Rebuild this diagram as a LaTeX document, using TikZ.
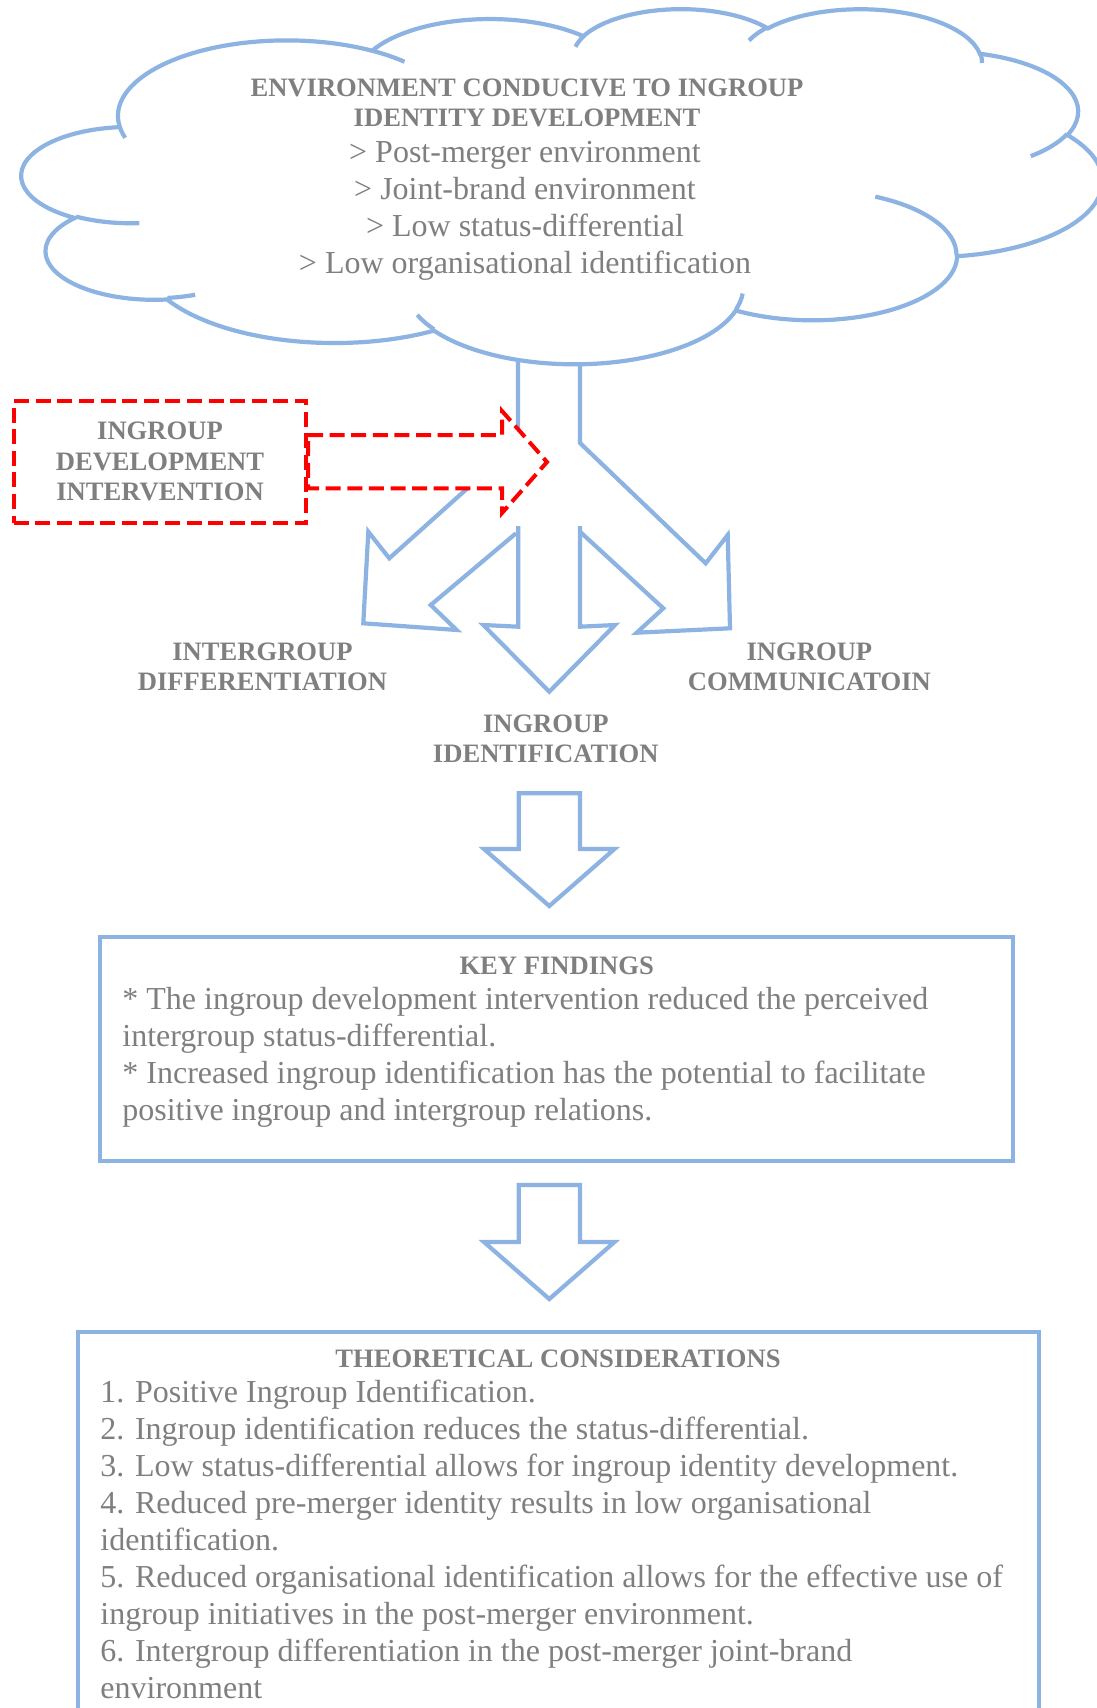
\documentclass[tikz,border=0pt]{standalone}
\usepackage{fontspec}
\setmainfont{Liberation Serif}
\definecolor{cloudblue}{HTML}{8DB3E2}
\definecolor{txtgray}{HTML}{7F7F7F}

% Office-style arc: geometric start/sweep angles (degrees) on an ellipse
% wR x hR are turned into parametric angles for TikZ's arc.
\newcommand\ooarc[5]{%
  \pgfmathsetmacro\ooS{atan2((#2)*sin(#4),(#3)*cos(#4))}%
  \pgfmathsetmacro\ooE{atan2((#2)*sin((#4)+(#5)),(#3)*cos((#4)+(#5)))}%
  \pgfmathsetmacro\ooD{\ooE-\ooS}%
  \pgfmathsetmacro\ooD{\ooD-360*round((\ooD-(#5))/360)}%
  \expandafter\xdef\csname oos#1\endcsname{\ooS}%
  \expandafter\xdef\csname ood#1\endcsname{\ooD}%
}
% outline arcs
\ooarc{A}{67.53}{91.90}{-190.4875}{123.7805}
\ooarc{B}{53.33}{72.67}{-144.1024}{89.9452}
\ooarc{C}{43.65}{59.45}{-145.8079}{99.7230}
\ooarc{D}{48.57}{65.95}{-130.9861}{117.2417}
\ooarc{E}{53.33}{72.73}{-78.7089}{109.0269}
\ooarc{F}{67.75}{92.20}{-46.2673}{130.2690}
\ooarc{G}{57.85}{78.67}{0.6250}{114.0333}
\ooarc{H}{67.52}{92.15}{22.4516}{115.1726}
\ooarc{I}{77.20}{105.43}{66.2426}{75.7110}
\ooarc{J}{43.60}{59.18}{-274.9421}{146.7356}
\ooarc{K}{43.45}{59.45}{-246.8285}{152.5189}
% inner hook arcs
\ooarc{a}{43.45}{59.45}{86.7420}{26.4295}
\ooarc{b}{43.60}{59.18}{73.6105}{11.4475}
\ooarc{c}{67.52}{92.15}{137.6242}{14.0811}
\ooarc{d}{67.52}{92.15}{6.4533}{15.9984}
\ooarc{e}{57.85}{78.67}{-70.2924}{70.9174}
\ooarc{f}{53.33}{72.73}{30.3180}{27.7515}
\ooarc{g}{48.57}{65.95}{-13.7443}{14.8589}
\ooarc{h}{48.57}{65.95}{-149.1815}{18.1954}
\ooarc{i}{43.65}{59.45}{-163.4943}{17.6864}
\ooarc{j}{67.53}{91.90}{-66.7070}{12.3194}
\ooarc{k}{67.53}{91.90}{157.6544}{11.8582}

\tikzset{
  blueline/.style={draw=cloudblue, line width=2.1pt},
  redline/.style={draw=red, line width=2pt, dash pattern=on 7.5pt off 3.3pt},
  hd/.style={font=\fontsize{13.3}{15.25}\selectfont\bfseries, text=txtgray, inner sep=0pt},
  bd/.style={font=\fontsize{16}{18.5}\selectfont, text=txtgray, inner sep=0pt},
  panel/.style={draw=cloudblue, line width=2.1pt, rectangle, inner sep=0pt, outer sep=0pt,
    anchor=north west},
}

\begin{document}
\begin{tikzpicture}[x=0.5pt, y=-0.5pt]
\useasboundingbox (0,0) rectangle (1097,1708);

% three-way block arrow below the cloud
\draw[blueline] (518,355) -- (518,443) -- (389.3,558.3) -- (368.3,531.7) -- (363.3,623.3)
  -- (456.7,630) -- (430.7,605) -- (516,533.3);
\draw[blueline] (518.3,526) -- (518.3,626.7) -- (483.3,625) -- (549.3,691.7) -- (615,625)
  -- (580,626.7) -- (580,526);
\draw[blueline] (580,355) -- (580,443) -- (705.7,563.3) -- (727.7,535) -- (730,628.3)
  -- (636.7,632.7) -- (663.3,608.3) -- (580,531.7);

% cloud
\begin{scope}[shift={(22,8)}, xscale=2.5, yscale=0.82176]
\draw[blueline, fill=white] (39.00,143.70)
  arc[start angle=\oosA, delta angle=\oodA, x radius=67.53, y radius=91.90]
  arc[start angle=\oosB, delta angle=\oodB, x radius=53.33, y radius=72.67]
  arc[start angle=\oosC, delta angle=\oodC, x radius=43.65, y radius=59.45]
  arc[start angle=\oosD, delta angle=\oodD, x radius=48.57, y radius=65.95]
  arc[start angle=\oosE, delta angle=\oodE, x radius=53.33, y radius=72.73]
  arc[start angle=\oosF, delta angle=\oodF, x radius=67.75, y radius=92.20]
  arc[start angle=\oosG, delta angle=\oodG, x radius=57.85, y radius=78.67]
  arc[start angle=\oosH, delta angle=\oodH, x radius=67.52, y radius=92.15]
  arc[start angle=\oosI, delta angle=\oodI, x radius=77.20, y radius=105.43]
  arc[start angle=\oosJ, delta angle=\oodJ, x radius=43.60, y radius=59.18]
  arc[start angle=\oosK, delta angle=\oodK, x radius=43.45, y radius=59.45]
  -- cycle;
\draw[blueline]
  (46.93,261.77) arc[start angle=\oosa, delta angle=\ooda, x radius=43.45, y radius=59.45]
  (69.28,348.99) arc[start angle=\oosb, delta angle=\oodb, x radius=43.60, y radius=59.18]
  (164.78,390.90) arc[start angle=\oosc, delta angle=\oodc, x radius=67.52, y radius=92.15]
  (288.27,347.51) arc[start angle=\oosd, delta angle=\oodd, x radius=67.52, y radius=92.15]
  (341.29,229.54) arc[start angle=\oose, delta angle=\oode, x radius=57.85, y radius=78.67]
  (417.98,153.54) arc[start angle=\oosf, delta angle=\oodf, x radius=53.33, y radius=72.73]
  (383.24,54.26) arc[start angle=\oosg, delta angle=\oodg, x radius=48.57, y radius=65.95]
  (290.78,39.52) arc[start angle=\oosh, delta angle=\oodh, x radius=48.57, y radius=65.95]
  (221.41,47.20) arc[start angle=\oosi, delta angle=\oodi, x radius=43.65, y radius=59.45]
  (140.00,51.92) arc[start angle=\oosj, delta angle=\oodj, x radius=67.53, y radius=91.90]
  (41.27,157.89) arc[start angle=\oosk, delta angle=\oodk, x radius=67.53, y radius=91.90];
\end{scope}

% intervention box and its dashed block arrow
\node[redline, fill=white, rectangle, inner sep=0pt, outer sep=0pt, anchor=north west,
  minimum width=146.15pt, minimum height=61pt] (interventionbox) at (13.7,401.3) {};
\draw[redline, fill=white] (308,435) -- (502,435) -- (502,411) -- (547,462)
  -- (502,513) -- (502,488.3) -- (308,488.3) -- cycle;

% down arrows between the panels
\draw[blueline] (518.7,793.3) -- (580,793.3) -- (580,849) -- (614.5,849) -- (549.3,906)
  -- (484,849) -- (518.7,849) -- cycle;
\draw[blueline] (518.7,1185) -- (580,1185) -- (580,1242) -- (614.5,1242) -- (549.3,1299)
  -- (484,1242) -- (518.7,1242) -- cycle;

% panels
\node[panel, minimum width=456.35pt, minimum height=112pt] (findings) at (100.3,937) {};
\node[panel, minimum width=480.5pt, minimum height=220pt] (theory) at (78.3,1331.7) {};

% texts
\node[hd, anchor=base] (envhead) at (527,96)
  {\begin{tabular}[t]{@{}c@{}}ENVIRONMENT CONDUCIVE TO INGROUP\\IDENTITY DEVELOPMENT\end{tabular}};
\node[bd, anchor=base] (envlist) at (525,162.5)
  {\begin{tabular}[t]{@{}c@{}}> Post-merger environment\\> Joint-brand environment\\> Low status-differential\\> Low organisational identification\end{tabular}};
\node[hd, anchor=base] (intervention) at (160,439.5)
  {\begin{tabular}[t]{@{}c@{}}INGROUP\\DEVELOPMENT\\INTERVENTION\end{tabular}};
\node[hd, anchor=base] (differentiation) at (262.5,660)
  {\begin{tabular}[t]{@{}c@{}}INTERGROUP\\DIFFERENTIATION\end{tabular}};
\node[hd, anchor=base] (communication) at (809.4,660)
  {\begin{tabular}[t]{@{}c@{}}INGROUP\\COMMUNICATOIN\end{tabular}};
\node[hd, anchor=base] (identification) at (545.8,732)
  {\begin{tabular}[t]{@{}c@{}}INGROUP\\IDENTIFICATION\end{tabular}};
\node[hd, anchor=base] (findingshead) at (556.7,974) {KEY FINDINGS};
\node[bd, anchor=base west] (findingsbody) at (122,1009.5)
  {\begin{tabular}[t]{@{}l@{}}{}* The ingroup development intervention reduced the perceived\\
   intergroup status-differential.\\
   {}* Increased ingroup identification has the potential to facilitate\\
   positive ingroup and intergroup relations.\end{tabular}};
\node[hd, anchor=base] (theoryhead) at (558,1367) {THEORETICAL CONSIDERATIONS};
\node[bd, anchor=base west] (theorybody) at (100,1402.5)
  {\begin{tabular}[t]{@{}l@{}}1. Positive Ingroup Identification.\\
   2. Ingroup identification reduces the status-differential.\\
   3. Low status-differential allows for ingroup identity development.\\
   4. Reduced pre-merger identity results in low organisational\\
   identification.\\
   5. Reduced organisational identification allows for the effective use of\\
   ingroup initiatives in the post-merger environment.\\
   6. Intergroup differentiation in the post-merger joint-brand\\
   environment\end{tabular}};
\end{tikzpicture}
\end{document}
